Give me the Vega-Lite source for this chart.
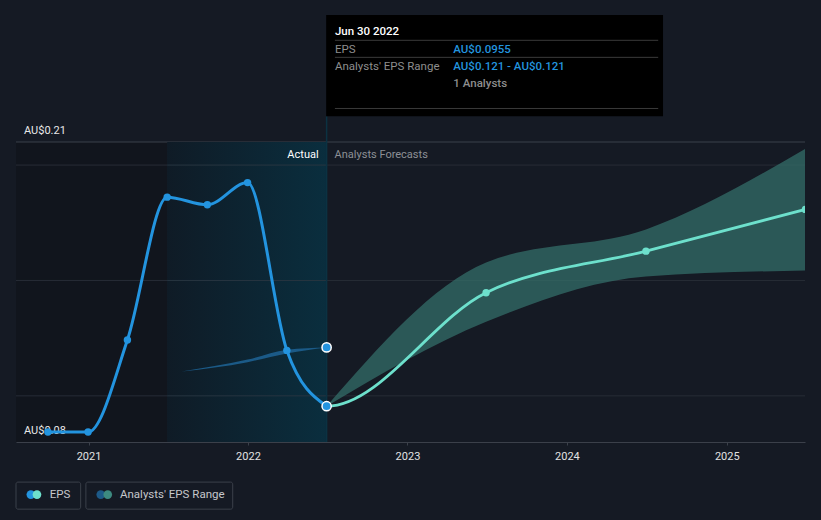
{
  "$schema": "https://vega.github.io/schema/vega-lite/v6.json",
  "width": 789,
  "height": 300,
  "autosize": {"type": "none"},
  "padding": {"left": 16, "top": 142, "right": 16, "bottom": 78},
  "background": "#151a24",
  "config": {"view": {"stroke": null}, "font": "Roboto", "text": {"font": "Roboto", "fontSize": 11}},
  "datasets": {
    "regions": [
      {"name": "history", "start": "2020-07-19", "end": "2021-06-30"},
      {"name": "actual", "start": "2021-06-30", "end": "2022-06-30"}
    ],
    "grid": [{"v": 0.1}, {"v": 0.15}, {"v": 0.2}],
    "cursor": [{"date": "2022-06-30", "lo": 0.08, "hi": 0.2212}],
    "eps": [
      {"date": "2020-09-30", "v": 0.0843},
      {"date": "2020-12-31", "v": 0.0843},
      {"date": "2021-03-31", "v": 0.1242},
      {"date": "2021-06-30", "v": 0.1861},
      {"date": "2021-09-30", "v": 0.1828},
      {"date": "2021-12-31", "v": 0.1924},
      {"date": "2022-03-31", "v": 0.1197},
      {"date": "2022-06-30", "v": 0.0955}
    ],
    "fc": [
      {"date": "2022-03-31", "v": 0.1197},
      {"date": "2022-06-30", "v": 0.0955},
      {"date": "2023-06-30", "v": 0.1447},
      {"date": "2024-06-30", "v": 0.1627},
      {"date": "2025-06-30", "v": 0.1808}
    ],
    "fcband": [
      {"date": "2022-06-30", "lo": 0.0955, "hi": 0.0955},
      {"date": "2023-06-30", "lo": 0.1321, "hi": 0.1578},
      {"date": "2024-06-30", "lo": 0.1517, "hi": 0.1721},
      {"date": "2025-06-30", "lo": 0.1543, "hi": 0.2071}
    ],
    "pastband": [
      {"date": "2021-08-02", "lo": 0.1105, "hi": 0.1105},
      {"date": "2021-12-31", "lo": 0.1146, "hi": 0.1157},
      {"date": "2022-03-31", "lo": 0.1184, "hi": 0.1200},
      {"date": "2022-06-30", "lo": 0.121, "hi": 0.121}
    ],
    "highlight": [
      {"date": "2022-06-30", "v": 0.0955},
      {"date": "2022-06-30", "v": 0.121}
    ],
    "ylabels": [
      {"v": 0.21, "text": "AU$0.21"},
      {"v": 0.08, "text": "AU$0.08"}
    ],
    "section": [
      {"date": "2022-06-30", "text": "Actual", "part": "actual"},
      {"date": "2022-06-30", "text": "Analysts Forecasts", "part": "forecast"}
    ],
    "tipbox": [{"start": "2022-06-29", "end": "2024-08-08", "lo": 0.22118, "hi": 0.26506}],
    "tiprules": [
      {"start": "2022-07-19", "end": "2024-07-28", "v": 0.25407},
      {"start": "2022-07-19", "end": "2024-07-28", "v": 0.24668},
      {"start": "2022-07-19", "end": "2024-07-28", "v": 0.22453}
    ],
    "tiptext": [
      {"date": "2022-07-19", "v": 0.25764, "text": "Jun 30 2022", "role": "title"},
      {"date": "2022-07-19", "v": 0.24969, "text": "EPS", "role": "label"},
      {"date": "2022-07-19", "v": 0.24244, "text": "Analysts' EPS Range", "role": "label"},
      {"date": "2023-04-16", "v": 0.24969, "text": "AU$0.0955", "role": "value"},
      {"date": "2023-04-16", "v": 0.24244, "text": "AU$0.121 - AU$0.121", "role": "value"},
      {"date": "2023-04-16", "v": 0.23518, "text": "1 Analysts", "role": "note"}
    ],
    "legbox": [
      {"start": "2020-07-19", "end": "2020-12-14"},
      {"start": "2020-12-26", "end": "2021-11-27"}
    ],
    "legdots": [
      {"date": "2020-08-22", "k": "eps1"},
      {"date": "2020-09-05", "k": "eps2"},
      {"date": "2021-01-29", "k": "rng1"},
      {"date": "2021-02-14", "k": "rng2"}
    ],
    "legtext": [
      {"date": "2020-10-04", "text": "EPS"},
      {"date": "2021-03-14", "text": "Analysts' EPS Range"}
    ]
  },
  "layer": [
    {
      "data": {"name": "regions"},
      "transform": [{"filter": "datum.name === 'history'"}],
      "mark": {"type": "rect", "color": "#11151d"},
      "encoding": {
        "x": {
          "field": "start", "type": "temporal", "title": null,
          "scale": {"type": "utc", "domain": [{"year": 2020, "month": 7, "date": 19, "utc": true}, {"year": 2025, "month": 6, "date": 29, "utc": true}]},
          "axis": {"format": "%Y", "tickCount": {"interval": "year", "step": 1}, "grid": false, "labelColor": "#e2e2e2", "labelFontSize": 11, "labelFont": "Roboto", "tickColor": "#3b404a", "domainColor": "#3b404a", "tickSize": 3, "labelPadding": 5, "zindex": 1, "labelFlush": false}
        },
        "x2": {"field": "end"},
        "y": {"datum": 0.08, "type": "quantitative", "scale": {"domain": [0.08, 0.21], "zero": false, "nice": false}, "axis": null},
        "y2": {"datum": 0.21}
      }
    },
    {
      "data": {"name": "grid"},
      "mark": {"type": "rule", "color": "#272c36", "strokeWidth": 1},
      "encoding": {"y": {"field": "v", "type": "quantitative"}}
    },
    {
      "data": {"name": "grid"},
      "transform": [{"filter": "datum.v === 0.2"}],
      "mark": {"type": "rule", "color": "#3b404a", "strokeWidth": 1},
      "encoding": {"y": {"datum": 0.21, "type": "quantitative"}}
    },
    {
      "data": {"name": "fcband"},
      "mark": {"type": "area", "interpolate": "monotone", "color": "#35706b", "opacity": 0.72, "clip": true},
      "encoding": {
        "x": {"field": "date", "type": "temporal"},
        "y": {"field": "lo", "type": "quantitative"},
        "y2": {"field": "hi"}
      }
    },
    {
      "data": {"name": "fc"},
      "mark": {"type": "line", "interpolate": "monotone", "color": "#6de0cc", "strokeWidth": 2.8, "clip": true},
      "encoding": {
        "x": {"field": "date", "type": "temporal"},
        "y": {"field": "v", "type": "quantitative"}
      }
    },
    {
      "data": {"name": "regions"},
      "transform": [{"filter": "datum.name === 'actual'"}],
      "mark": {"type": "rect", "color": {"gradient": "linear", "x1": 0, "y1": 0, "x2": 1, "y2": 0, "stops": [{"offset": 0, "color": "#0f1b26"}, {"offset": 1, "color": "#0a2e3e"}]}},
      "encoding": {
        "x": {"field": "start", "type": "temporal"},
        "x2": {"field": "end"},
        "y": {"datum": 0.08, "type": "quantitative"},
        "y2": {"datum": 0.21}
      }
    },
    {
      "data": {"name": "grid"},
      "mark": {"type": "rule", "color": "#273540", "strokeWidth": 1},
      "encoding": {
        "x": {"datum": {"year": 2021, "month": 6, "date": 30, "utc": true}, "type": "temporal"},
        "x2": {"datum": {"year": 2022, "month": 6, "date": 30, "utc": true}},
        "y": {"field": "v", "type": "quantitative"}
      }
    },
    {
      "data": {"name": "cursor"},
      "mark": {"type": "rule", "color": "#0b3242", "strokeWidth": 1.5},
      "encoding": {
        "x": {"field": "date", "type": "temporal"},
        "y": {"field": "lo", "type": "quantitative"},
        "y2": {"field": "hi"}
      }
    },
    {
      "data": {"name": "pastband"},
      "mark": {"type": "area", "interpolate": "monotone", "color": "#1b5a87", "opacity": 1},
      "encoding": {
        "x": {"field": "date", "type": "temporal"},
        "y": {"field": "lo", "type": "quantitative"},
        "y2": {"field": "hi"}
      }
    },
    {
      "data": {"name": "ylabels"},
      "mark": {"type": "text", "align": "left", "baseline": "alphabetic", "dx": 8, "dy": -8, "color": "#e8e8e8", "fontSize": 11},
      "encoding": {
        "x": {"datum": {"year": 2020, "month": 7, "date": 19, "utc": true}, "type": "temporal"},
        "y": {"field": "v", "type": "quantitative"},
        "text": {"field": "text"}
      }
    },
    {
      "data": {"name": "eps"},
      "mark": {"type": "line", "interpolate": "monotone", "color": "#2394df", "strokeWidth": 3},
      "encoding": {
        "x": {"field": "date", "type": "temporal"},
        "y": {"field": "v", "type": "quantitative"}
      }
    },
    {
      "data": {"name": "eps"},
      "transform": [{"filter": "datum.v !== 0.0955"}],
      "mark": {"type": "point", "filled": true, "color": "#2394df", "size": 55, "opacity": 1},
      "encoding": {
        "x": {"field": "date", "type": "temporal"},
        "y": {"field": "v", "type": "quantitative"}
      }
    },
    {
      "data": {"name": "fc"},
      "transform": [{"filter": "datum.v > 0.13"}],
      "mark": {"type": "point", "filled": true, "color": "#6de0cc", "size": 55, "opacity": 1, "clip": true},
      "encoding": {
        "x": {"field": "date", "type": "temporal"},
        "y": {"field": "v", "type": "quantitative"}
      }
    },
    {
      "data": {"name": "highlight"},
      "mark": {"type": "point", "filled": true, "fill": "#2394df", "stroke": "#ffffff", "strokeWidth": 1.5, "size": 85, "opacity": 1, "strokeOpacity": 1},
      "encoding": {
        "x": {"field": "date", "type": "temporal"},
        "y": {"field": "v", "type": "quantitative"}
      }
    },
    {
      "data": {"name": "section"},
      "transform": [{"filter": "datum.part === 'actual'"}],
      "mark": {"type": "text", "align": "right", "baseline": "middle", "dx": -8, "color": "#ffffff", "fontSize": 11},
      "encoding": {
        "x": {"field": "date", "type": "temporal"},
        "y": {"datum": 0.2042, "type": "quantitative"},
        "text": {"field": "text"}
      }
    },
    {
      "data": {"name": "section"},
      "transform": [{"filter": "datum.part === 'forecast'"}],
      "mark": {"type": "text", "align": "left", "baseline": "middle", "dx": 8, "color": "#8d9096", "fontSize": 11},
      "encoding": {
        "x": {"field": "date", "type": "temporal"},
        "y": {"datum": 0.2042, "type": "quantitative"},
        "text": {"field": "text"}
      }
    },
    {
      "data": {"name": "tipbox"},
      "mark": {"type": "rect", "color": "#000000"},
      "encoding": {
        "x": {"field": "start", "type": "temporal"},
        "x2": {"field": "end"},
        "y": {"field": "lo", "type": "quantitative"},
        "y2": {"field": "hi"}
      }
    },
    {
      "data": {"name": "tiprules"},
      "mark": {"type": "rule", "color": "#3a3a3a", "strokeWidth": 1},
      "encoding": {
        "x": {"field": "start", "type": "temporal"},
        "x2": {"field": "end"},
        "y": {"field": "v", "type": "quantitative"}
      }
    },
    {
      "data": {"name": "tiptext"},
      "transform": [{"filter": "datum.role === 'title'"}],
      "mark": {"type": "text", "align": "left", "baseline": "middle", "color": "#ffffff", "fontSize": 11.5, "fontWeight": 500},
      "encoding": {
        "x": {"field": "date", "type": "temporal"},
        "y": {"field": "v", "type": "quantitative"},
        "text": {"field": "text"}
      }
    },
    {
      "data": {"name": "tiptext"},
      "transform": [{"filter": "datum.role === 'label'"}],
      "mark": {"type": "text", "align": "left", "baseline": "middle", "color": "#8e8e8e", "fontSize": 11.5},
      "encoding": {
        "x": {"field": "date", "type": "temporal"},
        "y": {"field": "v", "type": "quantitative"},
        "text": {"field": "text"}
      }
    },
    {
      "data": {"name": "tiptext"},
      "transform": [{"filter": "datum.role === 'value'"}],
      "mark": {"type": "text", "align": "left", "baseline": "middle", "color": "#2394df", "fontSize": 11.5, "fontWeight": 500},
      "encoding": {
        "x": {"field": "date", "type": "temporal"},
        "y": {"field": "v", "type": "quantitative"},
        "text": {"field": "text"}
      }
    },
    {
      "data": {"name": "tiptext"},
      "transform": [{"filter": "datum.role === 'note'"}],
      "mark": {"type": "text", "align": "left", "baseline": "middle", "color": "#8e8e8e", "fontSize": 11.5, "fontWeight": 500},
      "encoding": {
        "x": {"field": "date", "type": "temporal"},
        "y": {"field": "v", "type": "quantitative"},
        "text": {"field": "text"}
      }
    },
    {
      "data": {"name": "legbox"},
      "mark": {"type": "rect", "fill": "transparent", "stroke": "#3b404a", "strokeWidth": 1, "cornerRadius": 2},
      "encoding": {
        "x": {"field": "start", "type": "temporal"},
        "x2": {"field": "end"},
        "y": {"datum": 0.050895, "type": "quantitative"},
        "y2": {"datum": 0.062624}
      }
    },
    {
      "data": {"name": "legdots"},
      "transform": [{"filter": "datum.k === 'eps1'"}],
      "mark": {"type": "point", "filled": true, "color": "#2394df", "size": 75, "opacity": 1},
      "encoding": {"x": {"field": "date", "type": "temporal"}, "y": {"datum": 0.0572, "type": "quantitative"}}
    },
    {
      "data": {"name": "legdots"},
      "transform": [{"filter": "datum.k === 'eps2'"}],
      "mark": {"type": "point", "filled": true, "color": "#6de0cc", "size": 75, "opacity": 1},
      "encoding": {"x": {"field": "date", "type": "temporal"}, "y": {"datum": 0.0572, "type": "quantitative"}}
    },
    {
      "data": {"name": "legdots"},
      "transform": [{"filter": "datum.k === 'rng1'"}],
      "mark": {"type": "point", "filled": true, "color": "#1d5a88", "size": 75, "opacity": 1},
      "encoding": {"x": {"field": "date", "type": "temporal"}, "y": {"datum": 0.0572, "type": "quantitative"}}
    },
    {
      "data": {"name": "legdots"},
      "transform": [{"filter": "datum.k === 'rng2'"}],
      "mark": {"type": "point", "filled": true, "color": "#3d8a80", "size": 75, "opacity": 1},
      "encoding": {"x": {"field": "date", "type": "temporal"}, "y": {"datum": 0.0572, "type": "quantitative"}}
    },
    {
      "data": {"name": "legtext"},
      "mark": {"type": "text", "align": "left", "baseline": "middle", "color": "#c5c7cb", "fontSize": 11.5},
      "encoding": {
        "x": {"field": "date", "type": "temporal"},
        "y": {"datum": 0.0572, "type": "quantitative"},
        "text": {"field": "text"}
      }
    }
  ]
}
